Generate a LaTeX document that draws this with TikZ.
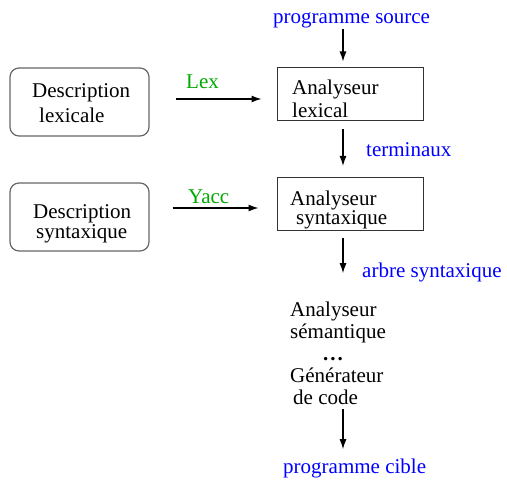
\documentclass[tikz,border=0pt]{standalone}
\usepackage{fontspec}
\setmainfont{Liberation Serif}
\usetikzlibrary{arrows.meta, positioning}
\definecolor{flowblue}{RGB}{0,0,255}
\definecolor{toolgreen}{RGB}{0,170,0}
\tikzset{
    txt/.style={font=\fontsize{21}{22}\selectfont, align=left, inner sep=0pt, anchor=base west},
    flow/.style={txt, text=flowblue},
    tool/.style={txt, text=toolgreen},
    spec/.style={rectangle, draw=black!60, line width=1.2pt, rounded corners=9pt, minimum width=139pt, minimum height=68pt},
    stage/.style={rectangle, draw=black!80, line width=1pt, minimum width=146pt, minimum height=53pt},
    arrow/.style={line width=1.3pt, -{Latex[length=10pt, width=7pt]}}
}

\begin{document}
\begin{tikzpicture}[x=1pt, y=-1pt]
    \useasboundingbox (0,0) rectangle (507,481);

    % boxes
    \node[spec] (desclex) at (79.5,102) {};
    \node[spec] (descsyn) at (79.5,217) {};
    \node[stage] (lexer) at (350,94.5) {};
    \node[stage] (parser) at (350,204) {};

    % texts (anchored on the baseline of the last line)
    \node[txt] (desclexT) at (32,123) {Description\\[3pt]\hspace{7pt}lexicale};
    \node[txt] (descsynT) at (33,239) {Description\\[-2pt]\hspace{3pt}syntaxique};
    \node[txt] (lexerT) at (292,118) {Analyseur\\[1pt]lexical};
    \node[txt] (parserT) at (290,225) {Analyseur\\[-3pt]\hspace{6pt}syntaxique};
    \node[txt] (backend) at (290,405) {Analyseur\\sémantique\\\hspace{33pt}\textbf{.\hspace{2pt}.\hspace{2pt}.}\\Générateur\\\hspace{3pt}de code};

    \node[flow] (source) at (273,24) {programme source};
    \node[flow] (tokens) at (366,157) {terminaux};
    \node[flow] (tree) at (362,278) {arbre syntaxique};
    \node[flow] (target) at (283,474) {programme cible};
    \node[tool] (lex) at (186,89) {Lex};
    \node[tool] (yacc) at (188,204) {Yacc};

    \coordinate (axis) at (343,0);

    % arrows
    \draw[arrow, shorten <=26pt, shorten >=15pt] ([yshift=3pt]desclex.east) -- ([yshift=3pt]desclex.east -| lexer.west);
    \draw[arrow, shorten <=23pt, shorten >=18pt] ([yshift=9pt]descsyn.east) -- ([yshift=9pt]descsyn.east -| parser.west);
    \draw[arrow, shorten >=6pt] (source.south -| axis) -- (lexer.north -| axis);
    \draw[arrow, shorten <=8pt, shorten >=11pt] (lexer.south -| axis) -- (parser.north -| axis);
    \draw[arrow, shorten <=7pt, shorten >=29pt] (parser.south -| axis) -- (backend.north -| axis);
    \draw[arrow, shorten <=4pt, shorten >=10pt] (backend.south -| axis) -- (target.north -| axis);
\end{tikzpicture}
\end{document}
